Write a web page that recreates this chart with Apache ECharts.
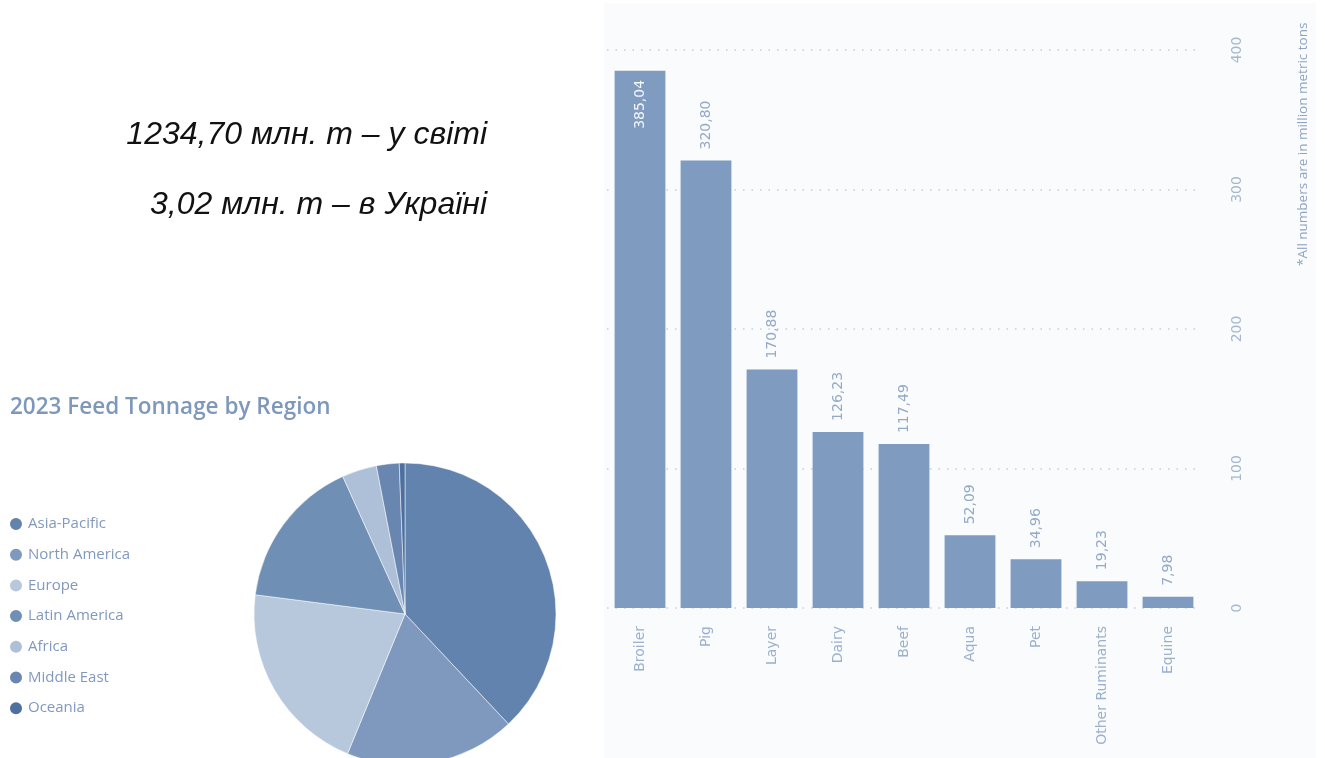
<!DOCTYPE html>
<html>
<head>
<meta charset="utf-8">
<script src="https://cdn.jsdelivr.net/npm/echarts@6/dist/echarts.min.js"></script>
<style>
  html, body { margin: 0; padding: 0; background: #ffffff; }
  #main { width: 1325px; height: 758px; }
</style>
</head>
<body>
<div id="main"></div>
<script>
// feed tonnage by species, million metric tons
const categories = ['Broiler', 'Pig', 'Layer', 'Dairy', 'Beef', 'Aqua', 'Pet', 'Other Ruminants', 'Equine']
const tonnage = [385.04, 320.80, 170.88, 126.23, 117.49, 52.09, 34.96, 19.23, 7.98]
const yTicks = [0, 100, 200, 300, 400]

// regional split
const regions = ['Asia-Pacific', 'North America', 'Europe', 'Latin America', 'Africa', 'Middle East', 'Oceania']
const regionValues = [469, 225, 257, 200, 46, 30, 7.5]
const regionColors = ['#6283ae', '#7e99bd', '#b8c8dc', '#6f8fb5', '#aec0d7', '#6886b0', '#4e70a0']

const headline = ['1234,70 млн. т – у світі', '3,02 млн. т – в Україні']

const fmt = v => v.toFixed(2).replace('.', ',')

const chart = echarts.init(document.getElementById('main'))

const option = {
  backgroundColor: '#ffffff',
  animation: false,
  graphic: [
    // light panel behind bar chart
    { type: 'rect', z: -10, shape: { x: 604, y: 3, width: 712, height: 760 }, style: { fill: '#f9fbfd' } },
    {
      type: 'text', x: 487, y: 135,
      style: { text: headline[0], font: 'italic 32px "Liberation Sans", Arial', fill: '#111', align: 'right', verticalAlign: 'middle' }
    },
    {
      type: 'text', x: 487, y: 205,
      style: { text: headline[1], font: 'italic 32px "Liberation Sans", Arial', fill: '#111', align: 'right', verticalAlign: 'middle' }
    },
    {
      type: 'text', x: 1303, y: 266, rotation: Math.PI / 2,
      style: { text: '*All numbers are in million metric tons', font: '13.5px "Open Sans"', fill: '#8ea4c3', align: 'left', verticalAlign: 'middle' }
    }
  ],
  title: {
    text: '2023 Feed Tonnage by Region',
    left: 5,
    top: 391,
    textStyle: { fontFamily: 'Open Sans', fontWeight: 600, fontSize: 22.5, color: '#7e98bc' }
  },
  legend: {
    data: regions,
    orient: 'vertical',
    left: 3,
    top: 511,
    icon: 'circle',
    itemWidth: 14,
    itemHeight: 14,
    itemGap: 14.7,
    textStyle: { fontFamily: 'Open Sans', fontSize: 15, color: '#8099bd', lineHeight: 15 }
  },
  grid: { left: 607, right: 124, top: 50, bottom: 150 },
  xAxis: {
    type: 'category',
    data: categories,
    axisLine: { show: false },
    axisTick: { show: false },
    axisLabel: { rotate: 90, margin: 18, fontFamily: 'DejaVu Sans', fontSize: 14, color: '#9bb0cc', interval: 0 }
  },
  yAxis: {
    type: 'value',
    position: 'right',
    min: 0,
    max: yTicks[yTicks.length - 1],
    interval: 100,
    axisLine: { show: false },
    axisTick: { show: false },
    axisLabel: { rotate: 90, margin: 29, fontFamily: 'DejaVu Sans', fontSize: 14, color: '#a6b7cf' },
    splitLine: { lineStyle: { type: [1.5, 7], color: '#c5cfdd', width: 1.5 } }
  },
  series: [
    {
      type: 'bar',
      data: tonnage.map((v, i) => ({
        value: v,
        label: i === 0
          ? { position: 'insideTop', align: 'right', color: '#f4f7fb', distance: 9 }
          : { position: 'top', align: 'left', color: '#94a9c7', distance: 11 }
      })),
      barCategoryGap: '23%',
      itemStyle: { color: '#7f9bc0' },
      label: {
        show: true,
        rotate: 90,
        verticalAlign: 'middle',
        fontFamily: 'DejaVu Sans',
        fontSize: 14,
        formatter: p => fmt(p.value)
      }
    },
    {
      type: 'pie',
      center: [405, 614],
      radius: 151,
      startAngle: 90,
      clockwise: true,
      label: { show: false },
      labelLine: { show: false },
      itemStyle: { borderColor: '#ffffff', borderWidth: 0.5 },
      data: regions.map((name, i) => ({ name, value: regionValues[i], itemStyle: { color: regionColors[i] } }))
    }
  ]
}

chart.setOption(option)
</script>
</body>
</html>
